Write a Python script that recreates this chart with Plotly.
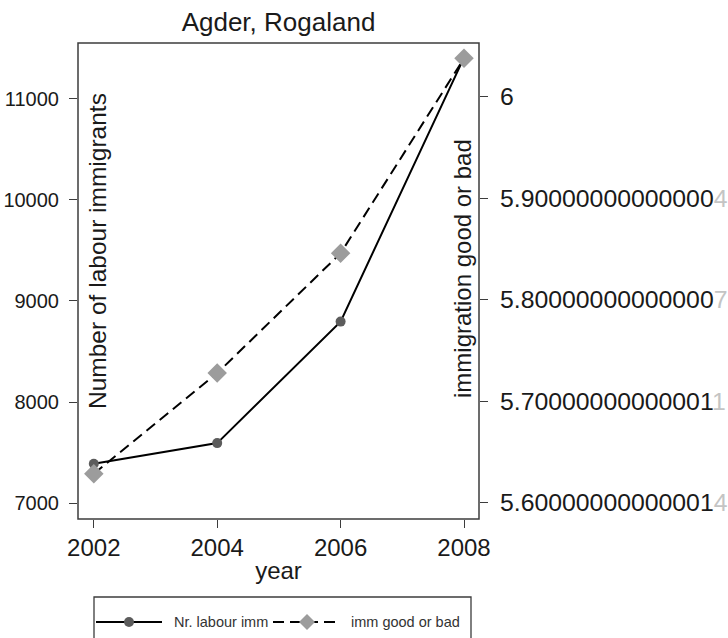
import plotly.graph_objects as go

# ---- data ----
years = [2002, 2004, 2006, 2008]
labour_imm = [7389, 7593, 8796, 11410]
imm_good_bad = [5.6286, 5.7277, 5.8458, 6.0378]

x_ticks = [2002, 2004, 2006, 2008]
left_ticks = [7000, 8000, 9000, 10000, 11000]
left_ticktext = ["7000", "8000", "9000", "10000", "11000"]
right_tickvals = [5.6, 5.7, 5.8, 5.9, 6.0]
right_ticktext = ["5.600000000000014", "5.700000000000011", "5.800000000000007",
                  "5.900000000000004", "6"]

series_names = ["Nr. labour imm", "imm good or bad"]
title_text = "Agder, Rogaland"
left_title = "Number of labour immigrants"
right_title = "immigration good or bad"
x_title = "year"

# ---- layout geometry ----
W, H = 728, 638
ML, MR, MT, MB = 78, 249, 43, 119
PW = W - ML - MR
PH = H - MT - MB


def px_x(px):
    return (px - ML) / PW


def px_y(py):
    return (H - MB - py) / PH


FONT = "Liberation Sans, Arial, sans-serif"
TXT = "#1a1a1a"
FRAME = "#3c3c3c"


def fade_last(s):
    if len(s) <= 1:
        return s
    return s[:-1] + "<span style='color:#c4c4c4'>" + s[-1] + "</span>"


fig = go.Figure()
fig.add_trace(go.Scatter(
    x=years, y=labour_imm, mode="lines+markers", name=series_names[0],
    line=dict(color="black", width=2),
    marker=dict(symbol="circle", size=10, color="#5c5c5c"),
    yaxis="y", showlegend=False))
fig.add_trace(go.Scatter(
    x=years, y=imm_good_bad, mode="lines+markers", name=series_names[1],
    line=dict(color="black", width=2, dash="11px,6px"),
    marker=dict(symbol="diamond", size=15, color="#9c9c9c"),
    yaxis="y2", showlegend=False))

axis_common = dict(showgrid=False, zeroline=False, ticks="outside", ticklen=8,
                   tickwidth=1.3, tickcolor=FRAME, showline=False, automargin=False)

fig.update_layout(
    width=W, height=H,
    margin=dict(l=ML, r=MR, t=MT, b=MB, pad=0, autoexpand=False),
    plot_bgcolor="white", paper_bgcolor="white",
    font=dict(family=FONT, color=TXT),
    xaxis=dict(range=[2001.744, 2008.243], tickvals=x_ticks,
               tickfont=dict(size=24, color=TXT), ticklabelstandoff=-1,
               title=dict(text=x_title, font=dict(size=24, color=TXT), standoff=2),
               **axis_common),
    yaxis=dict(range=[6841.7, 11554], tickvals=left_ticks, ticktext=left_ticktext,
               tickfont=dict(size=20, color=TXT), ticklabelstandoff=6,
               **axis_common),
    yaxis2=dict(range=[5.584, 6.0529], tickvals=right_tickvals,
                ticktext=[fade_last(t) for t in right_ticktext],
                overlaying="y", side="right",
                tickfont=dict(size=24.8, color=TXT), ticklabelstandoff=7,
                **axis_common),
    title=dict(text=title_text, x=px_x(278.5), xref="paper", xanchor="center",
               y=1 - 22 / H, yref="container", yanchor="middle",
               font=dict(size=26, color=TXT)),
)

# plot frame
fig.add_shape(type="rect", xref="paper", yref="paper", x0=0, x1=1, y0=0, y1=1,
              line=dict(color=FRAME, width=1.5), layer="above")

# axis titles inside the plot region
fig.add_annotation(text=left_title, xref="paper", yref="paper",
                   x=px_x(97), y=px_y(251), textangle=-90, showarrow=False,
                   font=dict(size=24.5, color=TXT), xanchor="center", yanchor="middle")
fig.add_annotation(text=right_title, xref="paper", yref="paper",
                   x=px_x(462), y=px_y(269), textangle=-90, showarrow=False,
                   font=dict(size=24, color=TXT), xanchor="center", yanchor="middle")

# legend (drawn manually to match the boxed layout)
ly = px_y(622)
fig.add_shape(type="rect", xref="paper", yref="paper",
              x0=px_x(94), x1=px_x(471), y0=px_y(650), y1=px_y(597),
              line=dict(color=FRAME, width=1.3), fillcolor="white")
fig.add_shape(type="line", xref="paper", yref="paper",
              x0=px_x(96), x1=px_x(162), y0=ly, y1=ly,
              line=dict(color="black", width=2))
fig.add_shape(type="circle", xref="paper", yref="paper",
              xsizemode="pixel", ysizemode="pixel",
              xanchor=px_x(129), yanchor=ly, x0=-5, x1=5, y0=-5, y1=5,
              line=dict(width=0), fillcolor="#5c5c5c")
fig.add_annotation(text=series_names[0], xref="paper", yref="paper",
                   x=px_x(172), y=ly, xanchor="left", yanchor="middle",
                   showarrow=False, font=dict(size=14.5, color="#333333"))
fig.add_shape(type="line", xref="paper", yref="paper",
              x0=px_x(273), x1=px_x(339), y0=ly, y1=ly,
              line=dict(color="black", width=2, dash="11px,6px"))
fig.add_shape(type="path", xref="paper", yref="paper",
              xsizemode="pixel", ysizemode="pixel",
              xanchor=px_x(307), yanchor=ly,
              path="M -8 0 L 0 8 L 8 0 L 0 -8 Z",
              line=dict(width=0), fillcolor="#9c9c9c")
fig.add_annotation(text=series_names[1], xref="paper", yref="paper",
                   x=px_x(349), y=ly, xanchor="left", yanchor="middle",
                   showarrow=False, font=dict(size=14.5, color="#333333"))

fig.write_html("out.html")
